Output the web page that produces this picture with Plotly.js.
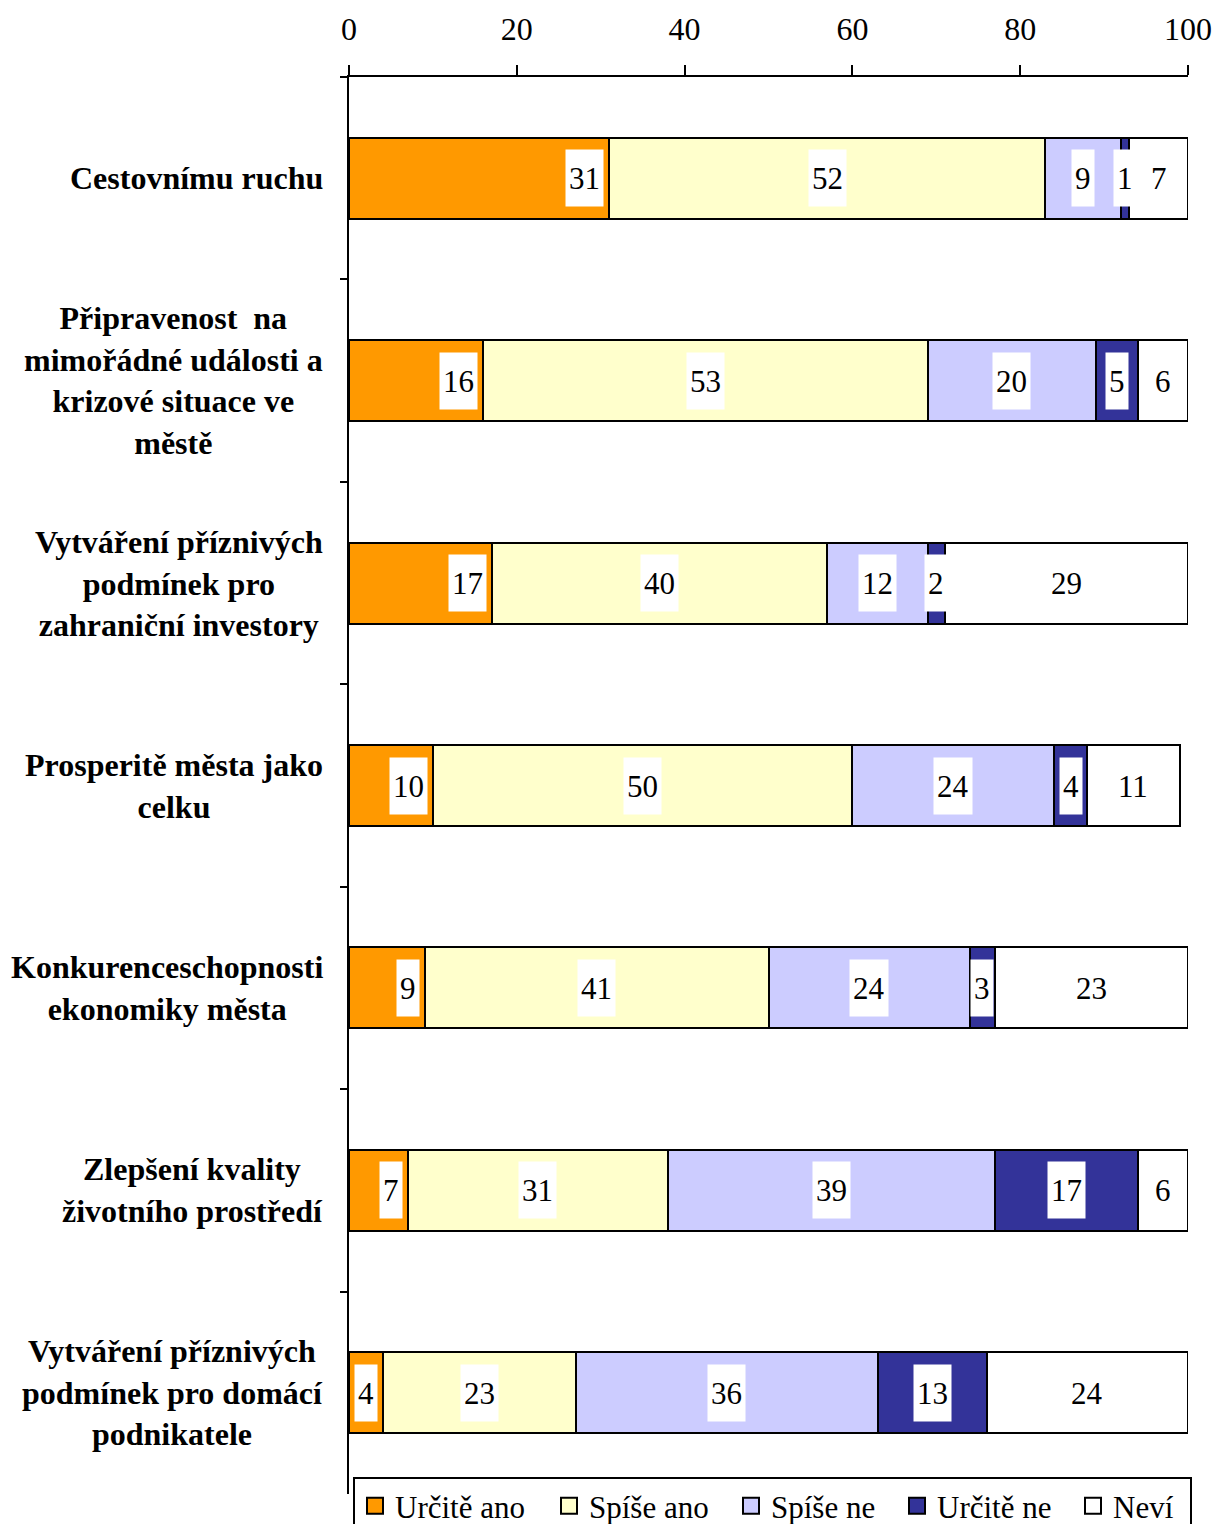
<!DOCTYPE html>
<html>
<head>
<meta charset="utf-8">
<script src="https://cdn.plot.ly/plotly-3.0.1.min.js"></script>
<style>html,body{margin:0;padding:0;background:#fff;}</style>
</head>
<body>
<div id="chart" style="width:1216px;height:1524px;"></div>
<script>
const categories = [
  "Cestovnímu ruchu",
  "Připravenost  na<br>mimořádné události a<br>krizové situace ve<br>městě",
  "Vytváření příznivých<br>podmínek pro<br>zahraniční investory",
  "Prosperitě města jako<br>celku",
  "Konkurenceschopnosti<br>ekonomiky města",
  "Zlepšení kvality<br>životního prostředí",
  "Vytváření příznivých<br>podmínek pro domácí<br>podnikatele"
];
const seriesNames = ["Určitě ano", "Spíše ano", "Spíše ne", "Určitě ne", "Neví"];
const urciteAno = [31, 16, 17, 10, 9, 7, 4];
const spiseAno  = [52, 53, 40, 50, 41, 31, 23];
const spiseNe   = [9, 20, 12, 24, 24, 39, 36];
const urciteNe  = [1, 5, 2, 4, 3, 17, 13];
const nevi      = [7, 6, 29, 11, 23, 6, 24];
const xTicks = [0, 20, 40, 60, 80, 100];

const seriesValues = [urciteAno, spiseAno, spiseNe, urciteNe, nevi];
const colors = ["#FF9900", "#FFFFCC", "#CCCCFF", "#333399", "#FFFFFF"];
const legendWidths = [149, 137, 121, 131, 72];
const FONT = "Liberation Serif, Times New Roman, serif";

const traces = seriesValues.map((vals, i) => ({
  type: "bar",
  orientation: "h",
  name: seriesNames[i],
  x: vals,
  y: categories,
  showlegend: false,
  marker: {color: colors[i], line: {color: "#000", width: 2}},
  hoverinfo: "skip"
}));
// legend entries (square swatches)
seriesNames.forEach((nm, i) => {
  traces.push({
    type: "scatter", mode: "markers", name: nm,
    x: [null], y: [categories[0]],
    showlegend: true, legendwidth: legendWidths[i],
    marker: {symbol: "square", size: 16, color: colors[i], line: {color: "#000", width: 2}},
    hoverinfo: "skip"
  });
});

const annotations = [];
categories.forEach((cat, j) => {
  let start = 0;
  seriesValues.forEach((vals, i) => {
    const v = vals[j];
    const a = {
      xref: "x", yref: "y", y: cat, text: String(v), showarrow: false,
      bgcolor: "#FFFFFF", borderpad: 3, height: 50,
      font: {family: FONT, size: 31, color: "#000"}
    };
    if (i === 0) { a.x = v; a.xanchor = "right"; a.xshift = -5; }
    else { a.x = start + v / 2; a.xanchor = "center"; }
    annotations.push(a);
    start += v;
  });
  annotations.push({
    xref: "paper", yref: "y", x: 0, y: cat, xanchor: "right", yanchor: "middle",
    xshift: -24, align: "center", showarrow: false, text: cat,
    font: {family: FONT, size: 32, color: "#000", weight: "bold"}
  });
});

const layout = {
  width: 1216, height: 1524,
  margin: {l: 349, r: 28, t: 77, b: 30, autoexpand: false},
  paper_bgcolor: "#fff", plot_bgcolor: "#fff",
  barmode: "stack", bargap: 0.6,
  font: {family: FONT, size: 31, color: "#000"},
  xaxis: {
    side: "top", range: [0, 100], tickvals: xTicks, ticktext: xTicks.map(String),
    showgrid: false, zeroline: false, showline: true, linecolor: "#000", linewidth: 2,
    ticks: "outside", ticklen: 10, tickwidth: 2, tickcolor: "#000",
    ticklabelstandoff: 12, tickfont: {family: FONT, size: 32, color: "#000"}, fixedrange: true
  },
  yaxis: {
    type: "category", autorange: "reversed", showticklabels: false,
    showgrid: false, zeroline: false, showline: true, linecolor: "#000", linewidth: 2,
    ticks: "outside", tickson: "boundaries", ticklen: 7, tickwidth: 2, tickcolor: "#000",
    fixedrange: true
  },
  showlegend: true,
  legend: {
    orientation: "h", xref: "container", yref: "container",
    x: 353 / 1216, xanchor: "left", y: (1524 - 1477) / 1524, yanchor: "top",
    bordercolor: "#000", borderwidth: 2, bgcolor: "#fff", traceorder: "normal",
    itemwidth: 30,
    font: {family: FONT, size: 31, color: "#000"}
  },
  annotations: annotations,
  hovermode: false
};

Plotly.newPlot("chart", traces, layout, {displayModeBar: false, staticPlot: true});
</script>
</body>
</html>
